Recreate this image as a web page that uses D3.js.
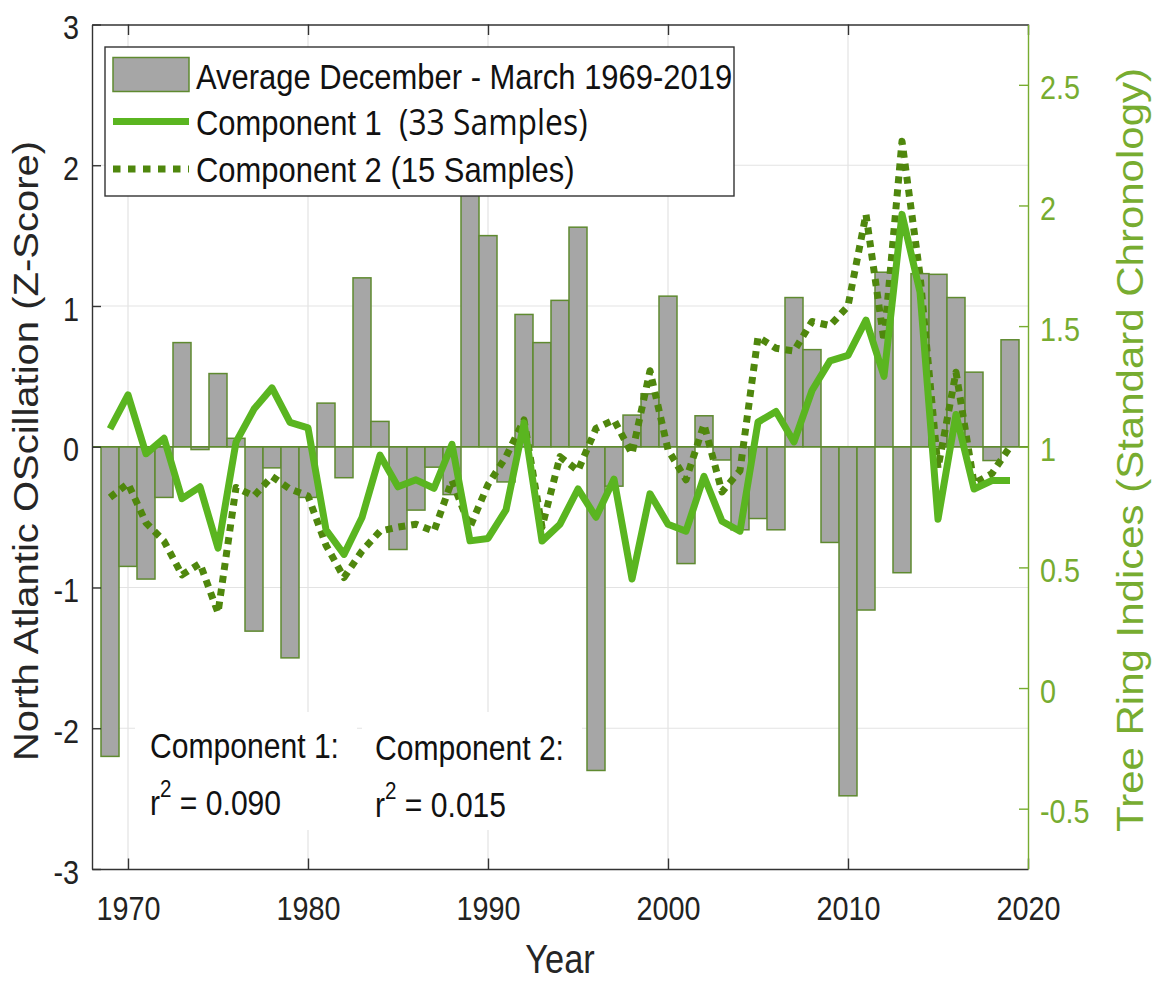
<!DOCTYPE html>
<html><head><meta charset="utf-8">
<script src="https://cdn.jsdelivr.net/npm/d3@7/dist/d3.min.js"></script>
<style>body{margin:0;background:#fff}svg{display:block}</style>
</head><body>
<svg id="c" width="1152" height="981"></svg>
<script>
// ---------- data ----------
const years = [1969,1970,1971,1972,1973,1974,1975,1976,1977,1978,1979,1980,1981,1982,1983,1984,1985,1986,1987,1988,1989,1990,1991,1992,1993,1994,1995,1996,1997,1998,1999,2000,2001,2002,2003,2004,2005,2006,2007,2008,2009,2010,2011,2012,2013,2014,2015,2016,2017,2018,2019];
// Average Dec-Mar NAO (Z-score), left axis
const nao = [-2.2,-0.85,-0.94,-0.36,0.74,-0.02,0.52,0.06,-1.31,-0.15,-1.5,-0.36,0.31,-0.22,1.2,0.18,-0.73,-0.45,-0.145,-0.34,2.0,1.5,-0.25,0.94,0.74,1.04,1.56,-2.3,-0.28,0.225,0.376,1.07,-0.83,0.22,-0.094,-0.59,-0.51,-0.59,1.06,0.69,-0.68,-2.48,-1.16,1.24,-0.895,1.23,1.225,1.06,0.53,-0.098,0.76];
// Tree ring indices, right axis
const comp1 = [1.074,1.215,0.971,1.035,0.785,0.834,0.58,1.019,1.156,1.244,1.101,1.078,0.656,0.554,0.707,0.965,0.834,0.863,0.828,1.01,0.61,0.62,0.738,1.099,0.609,0.679,0.825,0.708,0.866,0.452,0.805,0.679,0.65,0.877,0.691,0.65,1.102,1.146,1.02,1.233,1.356,1.379,1.525,1.292,1.963,1.642,0.70,1.134,0.825,0.86,0.86];
const comp2 = [0.79,0.848,0.685,0.609,0.469,0.516,0.312,0.831,0.796,0.877,0.825,0.796,0.592,0.458,0.568,0.65,0.667,0.679,0.65,0.86,0.667,0.843,0.959,1.111,0.667,0.959,0.901,1.076,1.111,0.971,1.315,0.988,0.863,1.093,0.813,0.901,1.455,1.408,1.397,1.519,1.502,1.583,1.963,1.438,2.266,1.712,0.912,1.309,0.848,0.889,1.0];
const xTicks = [1970,1980,1990,2000,2010,2020];
const yLeftTicks = [-3,-2,-1,0,1,2,3];
const yRightTicks = [-0.5,0,0.5,1,1.5,2,2.5];
const legendLabels = ["Average December - March 1969-2019","Component 1","(33 Samples)","Component 2 (15 Samples)"];

// ---------- layout ----------
const M = {l:92, r:1028, t:24.5, b:869};
const SX = 0.86;
const FONT = '"Liberation Sans", Arial, Helvetica, sans-serif';
const C = {axis:'#333333', grid:'#e3e3e3', barFill:'#a6a6a6', barEdge:'#5f8a30',
           c1:'#5ab520', c2:'#4f870d', right:'#77ac30', text:'#111111'};

const x = d3.scaleLinear().domain([1968,2020]).range([M.l,M.r]);
const yL = d3.scaleLinear().domain([-3,3]).range([M.b,M.t]);
const yR = d3.scaleLinear().domain([-0.75,2.75]).range([M.b,M.t]);
const svg = d3.select('#c');

// grid
const grid = svg.append('g').attr('stroke', C.grid).attr('stroke-width', 1.2);
grid.selectAll('line.gx').data(xTicks.filter(d => d > 1968 && d < 2020)).join('line')
  .attr('x1', d => x(d)).attr('x2', d => x(d)).attr('y1', M.t).attr('y2', M.b);
grid.selectAll('line.gy').data(yLeftTicks.filter(d => d > -3 && d < 3)).join('line')
  .attr('x1', M.l).attr('x2', M.r).attr('y1', d => yL(d)).attr('y2', d => yL(d));

// annotation background boxes
svg.append('rect').attr('x', 135).attr('y', 712).attr('width', 222).attr('height', 118).attr('fill', '#fff');
svg.append('rect').attr('x', 362).attr('y', 712).attr('width', 220).attr('height', 118).attr('fill', '#fff');

// bars
svg.append('g').selectAll('rect').data(years).join('rect')
  .attr('x', d => x(d - 0.5)).attr('width', d => x(d + 0.5) - x(d - 0.5))
  .attr('y', (d, i) => Math.min(yL(nao[i]), yL(0)))
  .attr('height', (d, i) => Math.abs(yL(nao[i]) - yL(0)))
  .attr('fill', C.barFill).attr('stroke', C.barEdge).attr('stroke-width', 1.5);
// baseline
svg.append('line').attr('x1', M.l).attr('x2', M.r).attr('y1', yL(0)).attr('y2', yL(0))
  .attr('stroke', C.barEdge).attr('stroke-width', 1.5);

// lines
const line = d3.line().x(d => x(d[0])).y(d => yR(d[1]));
svg.append('path').datum(years.map((y, i) => [y, comp2[i]])).attr('d', line)
  .attr('fill', 'none').attr('stroke', C.c2).attr('stroke-width', 7)
  .attr('stroke-dasharray', '7,6').attr('stroke-linejoin', 'round');
svg.append('path').datum(years.map((y, i) => [y, comp1[i]])).attr('d', line)
  .attr('fill', 'none').attr('stroke', C.c1).attr('stroke-width', 7)
  .attr('stroke-linejoin', 'round');

// axes
function styleAxis(g, col, fs) {
  g.attr('font-family', FONT).attr('font-size', fs);
  g.select('.domain').attr('stroke', col).attr('stroke-width', 1.4);
  g.selectAll('.tick line').attr('stroke', col).attr('stroke-width', 1.4);
  g.selectAll('.tick text').attr('fill', col);
}
const ax = svg.append('g').attr('transform', `translate(0,${M.b})`)
  .call(d3.axisBottom(x).tickValues(xTicks).tickSizeInner(-10.5).tickSizeOuter(0).tickPadding(27.7).tickFormat(d => String(d)));
styleAxis(ax, C.axis, 33.5);
ax.selectAll('.tick text').attr('fill', '#222').attr('transform', `scale(${SX},1)`);

const at = svg.append('g').attr('transform', `translate(0,${M.t})`)
  .call(d3.axisTop(x).tickValues(xTicks).tickSizeInner(-10.5).tickSizeOuter(0).tickFormat(''));
styleAxis(at, C.axis, 10);

const al = svg.append('g').attr('transform', `translate(${M.l},0)`)
  .call(d3.axisLeft(yL).tickValues(yLeftTicks).tickSizeInner(-9).tickSizeOuter(0).tickFormat(d => String(d)));
styleAxis(al, C.axis, 33.5);
al.selectAll('.tick text').attr('fill', '#222').attr('x', -13 / SX).attr('dy', '0.42em').attr('transform', `scale(${SX},1)`);

const ar = svg.append('g').attr('transform', `translate(${M.r},0)`)
  .call(d3.axisRight(yR).tickValues(yRightTicks).tickSizeInner(-9).tickSizeOuter(0).tickFormat(d => String(d)));
styleAxis(ar, C.right, 33.5);
ar.selectAll('.tick text').attr('x', 12 / SX).attr('dy', '0.42em').attr('transform', `scale(${SX},1)`);

// axis titles
function txt(xp, yp, s, fs, opts = {}) {
  const t = svg.append('text').attr('font-family', FONT).attr('font-size', fs)
    .attr('fill', opts.fill || C.text).attr('text-anchor', opts.anchor || 'start')
    .attr('transform', `translate(${xp},${yp}) scale(${SX},1)` + (opts.rot ? ` rotate(${opts.rot})` : ''))
    .text(s);
  return t;
}
txt(38, 451, 'North Atlantic OScillation (Z-Score)', 40, {anchor: 'middle', rot: -90, fill: '#262626'});
txt(1143, 450, 'Tree Ring Indices (Standard Chronology)', 42, {anchor: 'middle', rot: -90, fill: C.right});
txt(560, 973, 'Year', 40, {anchor: 'middle', fill: '#262626'});

// annotations
txt(150, 758, 'Component 1:', 35);
txt(375, 760, 'Component 2:', 35);
function r2(xp, yp, val) {
  const t = txt(xp, yp, 'r', 35);
  t.append('tspan').attr('font-size', 24).attr('dy', -18).text('2');
  t.append('tspan').attr('dy', 18).text(' = ' + val);
}
r2(150, 815, '0.090');
r2(375, 817, '0.015');

// legend
const lg = svg.append('g');
lg.append('rect').attr('x', 105).attr('y', 47).attr('width', 629).attr('height', 149)
  .attr('fill', '#fff').attr('stroke', C.axis).attr('stroke-width', 1.4);
lg.append('rect').attr('x', 113).attr('y', 57.5).attr('width', 76).attr('height', 34)
  .attr('fill', C.barFill).attr('stroke', C.barEdge).attr('stroke-width', 1.5);
lg.append('line').attr('x1', 113).attr('x2', 189).attr('y1', 121.5).attr('y2', 121.5)
  .attr('stroke', C.c1).attr('stroke-width', 7);
lg.append('line').attr('x1', 113).attr('x2', 189).attr('y1', 169).attr('y2', 169)
  .attr('stroke', C.c2).attr('stroke-width', 7).attr('stroke-dasharray', '7.5,7.5');
txt(196, 89, legendLabels[0], 36);
const l2 = txt(196, 135, legendLabels[1], 36);
l2.append('tspan').attr('dx', 20).attr('font-family', '"Open Sans", "Noto Sans", sans-serif').attr('font-size', 37).text(legendLabels[2]);
txt(196, 182, legendLabels[3], 36);
</script>
</body></html>
